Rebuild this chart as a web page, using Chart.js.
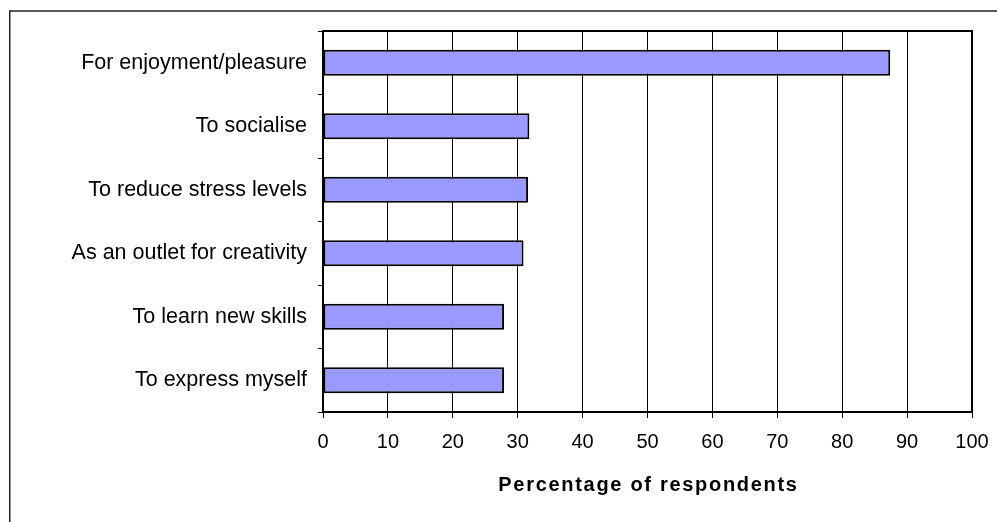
<!DOCTYPE html>
<html>
<head>
<meta charset="utf-8">
<script src="https://cdn.jsdelivr.net/npm/chart.js@4/dist/chart.umd.min.js"></script>
<style>
  html, body { margin: 0; padding: 0; background: #fff; }
  #wrap { position: relative; width: 997px; height: 522px; overflow: hidden; }
  canvas { position: absolute; left: 0; top: 0; }
</style>
</head>
<body>
<div id="wrap"><canvas id="c" width="997" height="522"></canvas></div>
<script>
const categories = [
  'For enjoyment/pleasure',
  'To socialise',
  'To reduce stress levels',
  'As an outlet for creativity',
  'To learn new skills',
  'To express myself'
];
const percentages = [87.4, 31.8, 31.6, 30.9, 27.9, 27.9];
const axisTitle = 'Percentage of respondents';
const xMin = 0, xMax = 100, xStep = 10;

const framePlugin = {
  id: 'frame',
  beforeDraw(chart) {
    const ctx = chart.ctx;
    ctx.save();
    ctx.strokeStyle = '#222';
    ctx.lineWidth = 1.5;
    ctx.beginPath();
    ctx.moveTo(9.75, 530);
    ctx.lineTo(9.75, 11);
    ctx.lineTo(1000, 11);
    ctx.stroke();
    ctx.restore();
  },
  afterDraw(chart) {
    const ctx = chart.ctx;
    const a = chart.chartArea;
    ctx.save();
    ctx.strokeStyle = '#000';
    ctx.lineWidth = 2;
    ctx.beginPath();
    ctx.moveTo(a.left, a.top);
    ctx.lineTo(a.right, a.top);
    ctx.lineTo(a.right, a.bottom);
    ctx.stroke();
    ctx.fillStyle = '#000';
    ctx.font = 'bold 20px "Liberation Sans", Arial, sans-serif';
    ctx.textAlign = 'center';
    ctx.textBaseline = 'middle';
    if ('letterSpacing' in ctx) ctx.letterSpacing = '1.7px';
    ctx.fillText(axisTitle, (a.left + a.right) / 2 + 1, 485);
    ctx.restore();
  }
};

new Chart(document.getElementById('c'), {
  type: 'bar',
  data: {
    labels: categories,
    datasets: [{
      data: percentages,
      backgroundColor: '#9999FF',
      borderColor: '#000',
      borderWidth: 2,
      borderSkipped: false,
      categoryPercentage: 1,
      barPercentage: 0.41
    }]
  },
  options: {
    indexAxis: 'y',
    responsive: false,
    animation: false,
    devicePixelRatio: 1,
    layout: { padding: { top: 31, right: 25, left: 0, bottom: 0 } },
    plugins: { legend: { display: false }, tooltip: { enabled: false } },
    scales: {
      x: {
        type: 'linear',
        min: xMin, max: xMax,
        ticks: { stepSize: xStep, color: '#000', padding: 12,
                 font: { family: '"Liberation Sans", Arial, sans-serif', size: 20 } },
        grid: { color: '#000', lineWidth: 1, tickLength: 6, tickColor: '#000', offset: false },
        border: { display: true, color: '#000', width: 2 },
        afterFit(s) { s.height = 110; s.paddingLeft = 0; s.paddingRight = 0; }
      },
      y: {
        type: 'category',
        offset: true,
        ticks: { color: '#000', padding: 11,
                 font: { family: '"Liberation Sans", Arial, sans-serif', size: 21.5 } },
        grid: { drawOnChartArea: false, tickLength: 5, tickColor: '#000', offset: true },
        border: { display: true, color: '#000', width: 2 },
        afterFit(s) { s.width = 323; s.paddingTop = 0; s.paddingBottom = 0; }
      }
    }
  },
  plugins: [framePlugin]
});
</script>
</body>
</html>
